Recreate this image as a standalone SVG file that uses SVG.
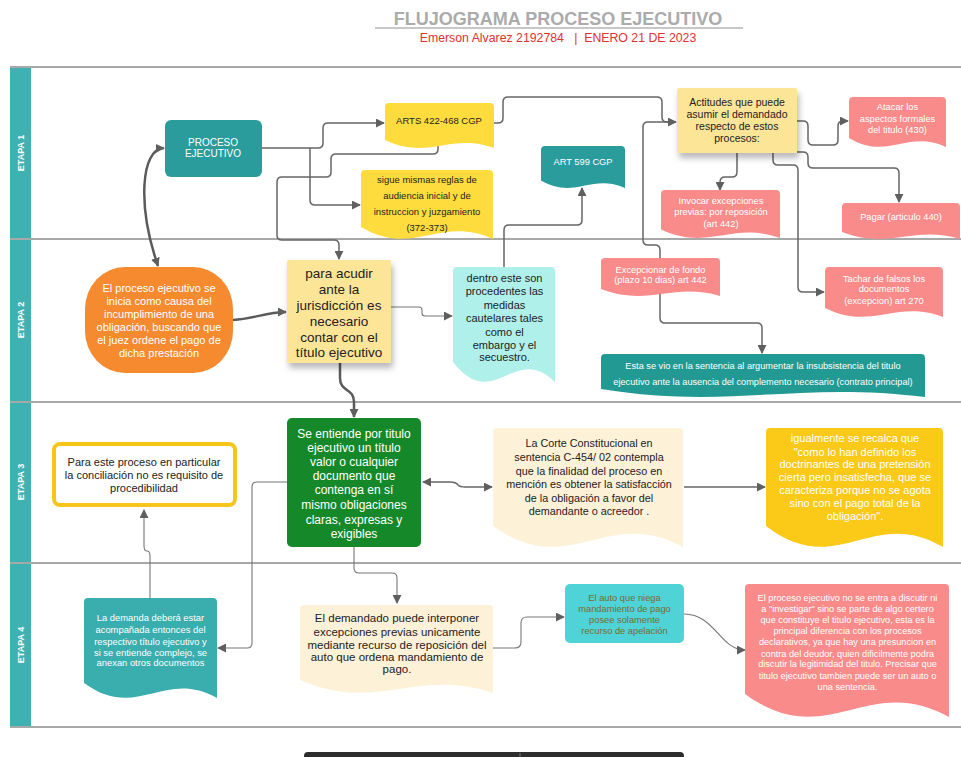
<svg xmlns="http://www.w3.org/2000/svg" width="961" height="757" viewBox="0 0 961 757">
<style>
text{font-family:"Liberation Sans",Arial,sans-serif;text-anchor:middle}
.w{fill:#ffffff}
.d{fill:#222222}
.lane{stroke:#a8a8a8;stroke-width:2;fill:none}
.c{fill:none;stroke:#666666;stroke-width:1.5;marker-end:url(#ah)}
.t{fill:none;stroke:#5a5a5a;stroke-width:2.5;marker-end:url(#ah)}
.n{fill:none;stroke:#777777;stroke-width:1.1;marker-end:url(#ah)}
.lbl{font-size:9px;font-weight:bold;fill:#ffffff}
.sal{fill:#f98b8b}
.teal{fill:#2b9c9c}
.yel{fill:#fedc3d}
</style>
<defs>
<marker id="ah" markerUnits="userSpaceOnUse" markerWidth="9" markerHeight="9" viewBox="0 0 10 10" refX="9" refY="5" orient="auto-start-reverse"><path d="M0,0 L10,5 L0,10 z" fill="#5f5f5f"/></marker>
<filter id="sh" x="-20%" y="-20%" width="140%" height="150%"><feDropShadow dx="2" dy="5" stdDeviation="3" flood-color="#000" flood-opacity="0.28"/></filter>
</defs>
<rect width="961" height="757" fill="#ffffff"/>
<g id="title">
<text x="558" y="25" style="font-size:18px;font-weight:bold;fill:#ababab">FLUJOGRAMA PROCESO EJECUTIVO</text>
<line x1="375" y1="28" x2="743" y2="28" stroke="#b5b5b5" stroke-width="1.5"/>
<text x="558" y="42" style="font-size:12.3px;fill:#e0312f;white-space:pre" xml:space="preserve">Emerson Alvarez 2192784   |  ENERO 21 DE 2023</text>
</g>
<g id="lanes">
<rect x="10" y="67" width="21" height="660" fill="#3eb1b3"/>
<line class="lane" x1="10" y1="67" x2="961" y2="67"/>
<line class="lane" x1="10" y1="239" x2="961" y2="239"/>
<line class="lane" x1="10" y1="402" x2="961" y2="402"/>
<line class="lane" x1="10" y1="563" x2="961" y2="563"/>
<line class="lane" x1="10" y1="727" x2="961" y2="727"/>
<text class="lbl" transform="translate(24 153) rotate(-90)">ETAPA 1</text>
<text class="lbl" transform="translate(24 320) rotate(-90)">ETAPA 2</text>
<text class="lbl" transform="translate(24 482) rotate(-90)">ETAPA 3</text>
<text class="lbl" transform="translate(24 645) rotate(-90)">ETAPA 4</text>
</g>
<g id="connectors">
<path class="t" d="M164 148 C141 149, 137 205, 158 266" style="marker-start:url(#ah)"/>
<path class="c" d="M262 148 H318 Q323 148 323 143 V128 Q323 123 328 123 H384"/>
<path class="c" d="M310 148 V200 Q310 205 315 205 H360"/>
<path class="c" d="M438 142 V149 Q438 154 433 154 H336 Q331 154 331 159 V172 Q331 177 326 177 H282 Q277 177 277 182 V235 Q277 240 282 240 H334 Q339 240 339 245 V259"/>
<path class="c" d="M494 123 H498 Q503 123 503 118 V102 Q503 97 508 97 H657 Q662 97 662 102 V117 Q662 122 667 122 H676"/>
<path class="c" d="M670 122 H648 Q643 122 643 127 V240 Q643 245 648 245 H655 Q660 245 660 250 V318 Q660 323 665 323 H757 Q762 323 762 328 V353"/>
<path class="c" d="M797 121 H803 Q808 121 808 126 V140 Q808 145 813 145 H833 Q838 145 838 140 V126 Q838 121 843 121 H848"/>
<path class="c" d="M737 153 V172 Q737 177 732 177 H725 Q720 177 720 182 V190"/>
<path class="c" d="M773 153 V160 Q773 165 778 165 H793 Q798 165 798 170 V287 Q798 292 803 292 H824"/>
<path class="c" d="M797 152 H803 Q808 152 808 157 V163 Q808 168 813 168 H894 Q899 168 899 173 V202"/>
<path class="c" d="M504 267 V230 Q504 225 509 225 H577 Q582 225 582 220 V188"/>
<path class="t" d="M233 320 C255 319, 265 312, 286 312"/>
<path class="n" d="M391 307 H419 Q422 307 422 310 V313 Q422 316 425 316 H452"/>
<path class="t" d="M340 363 V378 C340 392, 354 388, 354 402 V417"/>
<path class="c" d="M423 482 H450 Q456 482 458 485 Q460 487 465 487 H492" style="marker-start:url(#ah)"/>
<path class="c" d="M684 487 H765"/>
<path class="n" d="M287 482 H257 Q252 482 252 487 V643 Q252 648 247 648 H218"/>
<path class="n" d="M150 598 V556 Q150 551 147 551 Q144 551 144 546 V510"/>
<path class="n" d="M354 547 V568 Q354 573 359 573 H392 Q397 573 397 578 V603"/>
<path class="n" d="M493 648 H515 Q521 648 521 642 V623 Q521 617 527 617 H564"/>
<path class="n" d="M684 614 C715 614, 720 650, 745 650"/>
</g>
<g id="proceso-ejecutivo">
<rect x="165" y="120" width="97" height="57" rx="6" fill="#2b9c9c"/>
<text class="w" x="213" y="145.5" style="font-size:10px">PROCESO</text>
<text class="w" x="213" y="156.5" style="font-size:10px">EJECUTIVO</text>
</g>
<g id="arts-422">
<path class="yel" d="M385,107 Q385,103 389,103 H490 Q494,103 494,107 V148 C450.4,132 428.6,160.8 385,140 Z"/>
<text class="d" x="439" y="123.5" style="font-size:9.5px">ARTS 422-468 CGP</text>
</g>
<g id="sigue-reglas">
<path class="yel" d="M361,174 Q361,170 365,170 H489 Q493,170 493,174 V239 C440.2,215 413.8,258.2 361,227 Z"/>
<text class="d" x="427" y="182.5" style="font-size:9.5px">sigue mismas reglas de</text>
<text class="d" x="427" y="198.5" style="font-size:9.5px">audiencia inicial y de</text>
<text class="d" x="427" y="214.5" style="font-size:9.5px">instruccion y juzgamiento</text>
<text class="d" x="427" y="230.5" style="font-size:9.5px">(372-373)</text>
</g>
<g id="actitudes">
<rect x="677" y="88" width="120" height="65" rx="2" fill="#fde597" filter="url(#sh)"/>
<text class="d" x="737" y="105.5" style="font-size:10.5px">Actitudes que puede</text>
<text class="d" x="737" y="117.5" style="font-size:10.5px">asumir el demandado</text>
<text class="d" x="737" y="129.7" style="font-size:10.5px">respecto de estos</text>
<text class="d" x="737" y="142" style="font-size:10.5px">procesos:</text>
</g>
<g id="atacar">
<path class="sal" d="M849,101 Q849,97 853,97 H942 Q946,97 946,101 V147 C907.2,129 887.8,161.4 849,138 Z"/>
<text class="w" x="897.5" y="110" style="font-size:9.3px">Atacar los</text>
<text class="w" x="897.5" y="121.7" style="font-size:9.3px">aspectos formales</text>
<text class="w" x="897.5" y="133.3" style="font-size:9.3px">del titulo (430)</text>
</g>
<g id="art-599">
<path class="teal" d="M541,150 Q541,146 545,146 H621 Q625,146 625,150 V188 C591.4,173 574.6,200 541,180.5 Z"/>
<text class="w" x="583" y="165" style="font-size:9.3px">ART 599 CGP</text>
</g>
<g id="invocar">
<path class="sal" d="M661,194 Q661,190 665,190 H776 Q780,190 780,194 V238 C732.4,221 708.6,251.6 661,229.5 Z"/>
<text class="w" x="721" y="203.5" style="font-size:9.3px">Invocar excepciones</text>
<text class="w" x="721" y="215" style="font-size:9.3px">previas: por reposición</text>
<text class="w" x="721" y="226.7" style="font-size:9.3px">(art 442)</text>
</g>
<g id="pagar">
<path class="sal" d="M842,207 Q842,203 846,203 H956 Q960,203 960,207 V239 C912.8,225 889.2,250.2 842,232 Z"/>
<text class="w" x="901" y="220" style="font-size:9.3px">Pagar (articulo 440)</text>
</g>
<g id="inicio">
<rect x="85" y="267" width="148" height="106" rx="40" ry="42" fill="#f58a2f"/>
<text class="w" x="159" y="291.5" style="font-size:11px">El proceso ejecutivo se</text>
<text class="w" x="159" y="304.5" style="font-size:11px">inicia como causa del</text>
<text class="w" x="159" y="317.8" style="font-size:11px">incumplimiento de una</text>
<text class="w" x="159" y="330.5" style="font-size:11px">obligación, buscando que</text>
<text class="w" x="159" y="343.8" style="font-size:11px">el juez ordene el pago de</text>
<text class="w" x="159" y="357" style="font-size:11px">dicha prestación</text>
</g>
<g id="para-acudir">
<rect x="287" y="260" width="104" height="103" rx="2" fill="#fde597" filter="url(#sh)"/>
<text class="d" x="339" y="278" style="font-size:13.5px">para acudir</text>
<text class="d" x="339" y="294" style="font-size:13.5px">ante la</text>
<text class="d" x="339" y="310" style="font-size:13.5px">jurisdicción es</text>
<text class="d" x="339" y="326" style="font-size:13.5px">necesario</text>
<text class="d" x="339" y="341.5" style="font-size:13.5px">contar con el</text>
<text class="d" x="339" y="357" style="font-size:13.5px">título ejecutivo</text>
</g>
<g id="dentro">
<path fill="#b0f0ea" d="M453,271 Q453,267 457,267 H551 Q555,267 555,271 V382 C514.2,342 493.8,414 453,362 Z"/>
<text class="d" x="504.5" y="281.7" style="font-size:11px">dentro este son</text>
<text class="d" x="504.5" y="295" style="font-size:11px">procedentes las</text>
<text class="d" x="504.5" y="309" style="font-size:11px">medidas</text>
<text class="d" x="504.5" y="322.3" style="font-size:11px">cautelares tales</text>
<text class="d" x="504.5" y="335.7" style="font-size:11px">como el</text>
<text class="d" x="504.5" y="349" style="font-size:11px">embargo y el</text>
<text class="d" x="504.5" y="361.3" style="font-size:11px">secuestro.</text>
</g>
<g id="excepcionar">
<path class="sal" d="M601,262 Q601,258 605,258 H716 Q720,258 720,262 V296 C672.4,282 648.6,307.2 601,289 Z"/>
<text class="w" x="660.5" y="272.5" style="font-size:9.3px">Excepcionar de fondo</text>
<text class="w" x="660.5" y="283.3" style="font-size:9.3px">(plazo 10 dias) art 442</text>
</g>
<g id="tachar">
<path class="sal" d="M825,271 Q825,267 829,267 H939 Q943,267 943,271 V317 C895.8,299 872.2,331.4 825,308 Z"/>
<text class="w" x="884" y="281.6" style="font-size:9.3px">Tachar de falsos los</text>
<text class="w" x="884" y="292.3" style="font-size:9.3px">documentos</text>
<text class="w" x="884" y="304" style="font-size:9.3px">(excepcion) art 270</text>
</g>
<g id="esta-se-vio">
<path fill="#229a93" d="M601,358 Q601,354 605,354 H921 Q925,354 925,358 V397 C795.4,381 730.6,409.8 601,389 Z"/>
<text class="w" x="763" y="369" style="font-size:9.2px">Esta se vio en la sentencia al argumentar la insubsistencia del titulo</text>
<text class="w" x="763" y="385" style="font-size:9.2px">ejecutivo ante la ausencia del complemento necesario (contrato principal)</text>
</g>
<g id="para-este">
<rect x="54" y="444" width="181" height="61" rx="6" fill="#ffffff" stroke="#f7c41a" stroke-width="4"/>
<text class="d" x="144" y="466" style="font-size:11px">Para este proceso en particular</text>
<text class="d" x="144" y="479" style="font-size:11px">la conciliación no es requisito de</text>
<text class="d" x="144" y="492" style="font-size:11px">procedibilidad</text>
</g>
<g id="titulo-ejecutivo">
<rect x="287" y="418" width="134" height="129" rx="5" fill="#15892a"/>
<text class="w" x="354" y="437.6" style="font-size:12px">Se entiende por titulo</text>
<text class="w" x="354" y="451.6" style="font-size:12px">ejecutivo un título</text>
<text class="w" x="354" y="466" style="font-size:12px">valor o cualquier</text>
<text class="w" x="354" y="480.3" style="font-size:12px">documento que</text>
<text class="w" x="354" y="494.3" style="font-size:12px">contenga en sí</text>
<text class="w" x="354" y="509.3" style="font-size:12px">mismo obligaciones</text>
<text class="w" x="354" y="523.6" style="font-size:12px">claras, expresas y</text>
<text class="w" x="354" y="537.6" style="font-size:12px">exigibles</text>
</g>
<g id="corte">
<path fill="#fdf1d8" d="M493,432 Q493,428 497,428 H679 Q683,428 683,432 V547 C607,505 569,580.6 493,526 Z"/>
<text class="d" x="589" y="447.2" style="font-size:10.8px">La Corte Constitucional en</text>
<text class="d" x="589" y="461.2" style="font-size:10.8px">sentencia C-454/ 02 contempla</text>
<text class="d" x="589" y="475" style="font-size:10.8px">que la finalidad del proceso en</text>
<text class="d" x="589" y="488" style="font-size:10.8px">mención es obtener la satisfacción</text>
<text class="d" x="589" y="501.6" style="font-size:10.8px">de la obligación a favor del</text>
<text class="d" x="589" y="515" style="font-size:10.8px">demandante o acreedor .</text>
</g>
<g id="igualmente">
<path fill="#fbc918" d="M766,432 Q766,428 770,428 H939 Q943,428 943,432 V547 C872.2,505 836.8,580.6 766,526 Z"/>
<text class="w" x="855" y="442" style="font-size:11px">igualmente se recalca que</text>
<text class="w" x="855" y="455.5" style="font-size:11px">"como lo han definido los</text>
<text class="w" x="855" y="468" style="font-size:11px">doctrinantes de una pretensión</text>
<text class="w" x="855" y="480.5" style="font-size:11px">cierta pero insatisfecha, que se</text>
<text class="w" x="855" y="494" style="font-size:11px">caracteriza porque no se agota</text>
<text class="w" x="855" y="506.5" style="font-size:11px">sino con el pago total de la</text>
<text class="w" x="855" y="520" style="font-size:11px">obligación".</text>
</g>
<g id="la-demanda">
<path fill="#3aadae" d="M84,602 Q84,598 88,598 H213 Q217,598 217,602 V698 C163.8,668 137.2,722 84,683 Z"/>
<text class="w" x="150.5" y="620.6" style="font-size:9.4px">La demanda deberá estar</text>
<text class="w" x="150.5" y="633.3" style="font-size:9.4px">acompañada entonces del</text>
<text class="w" x="150.5" y="645" style="font-size:9.4px">respectivo título ejecutivo y</text>
<text class="w" x="150.5" y="656" style="font-size:9.4px">si se entiende complejo, se</text>
<text class="w" x="150.5" y="666" style="font-size:9.4px">anexan otros documentos</text>
</g>
<g id="el-demandado">
<path fill="#fdf1d8" d="M300,609 Q300,605 304,605 H489 Q493,605 493,609 V693 C415.8,667 377.2,713.8 300,680 Z"/>
<text class="d" x="397" y="622.3" style="font-size:11.5px">El demandado puede interponer</text>
<text class="d" x="397" y="635.7" style="font-size:11.5px">excepciones previas unicamente</text>
<text class="d" x="397" y="649" style="font-size:11.5px">mediante recurso de reposición del</text>
<text class="d" x="397" y="660.7" style="font-size:11.5px">auto que ordena mandamiento de</text>
<text class="d" x="397" y="673.3" style="font-size:11.5px">pago.</text>
</g>
<g id="el-auto">
<rect x="565" y="584" width="119" height="59" rx="5" fill="#4fd3d6"/>
<text x="624.5" y="600.5" style="font-size:9.3px;fill:#7a6b32">El auto que niega</text>
<text x="624.5" y="611.5" style="font-size:9.3px;fill:#7a6b32">mandamiento de pago</text>
<text x="624.5" y="623.2" style="font-size:9.3px;fill:#7a6b32">posee solamente</text>
<text x="624.5" y="634" style="font-size:9.3px;fill:#7a6b32">recurso de apelación</text>
</g>
<g id="proceso-no-discute">
<path class="sal" d="M745,588 Q745,584 749,584 H945 Q949,584 949,588 V717 C867.4,671 826.6,753.8 745,694 Z"/>
<text class="w" x="847.5" y="600.5" style="font-size:9.2px">El proceso ejecutivo no se entra a discutir ni</text>
<text class="w" x="847.5" y="611.5" style="font-size:9.2px">a "investigar" sino se parte de algo certero</text>
<text class="w" x="847.5" y="623.2" style="font-size:9.2px">que constituye el titulo ejecutivo, esta es la</text>
<text class="w" x="847.5" y="634" style="font-size:9.2px">principal diferencia con los procesos</text>
<text class="w" x="847.5" y="645" style="font-size:9.2px">declarativos, ya que hay una presuncion en</text>
<text class="w" x="847.5" y="656.5" style="font-size:9.2px">contra del deudor, quien dificilmente podra</text>
<text class="w" x="847.5" y="667.2" style="font-size:9.2px">discutir la legitimidad del titulo. Precisar que</text>
<text class="w" x="847.5" y="679" style="font-size:9.2px">titulo ejecutivo tambien puede ser un auto o</text>
<text class="w" x="847.5" y="690" style="font-size:9.2px">una sentencia.</text>
</g>
<rect x="304" y="752" width="380" height="10" rx="4" fill="#2d2d2d"/>
<line x1="520" y1="753" x2="520" y2="757" stroke="#777" stroke-width="1"/>
</svg>
